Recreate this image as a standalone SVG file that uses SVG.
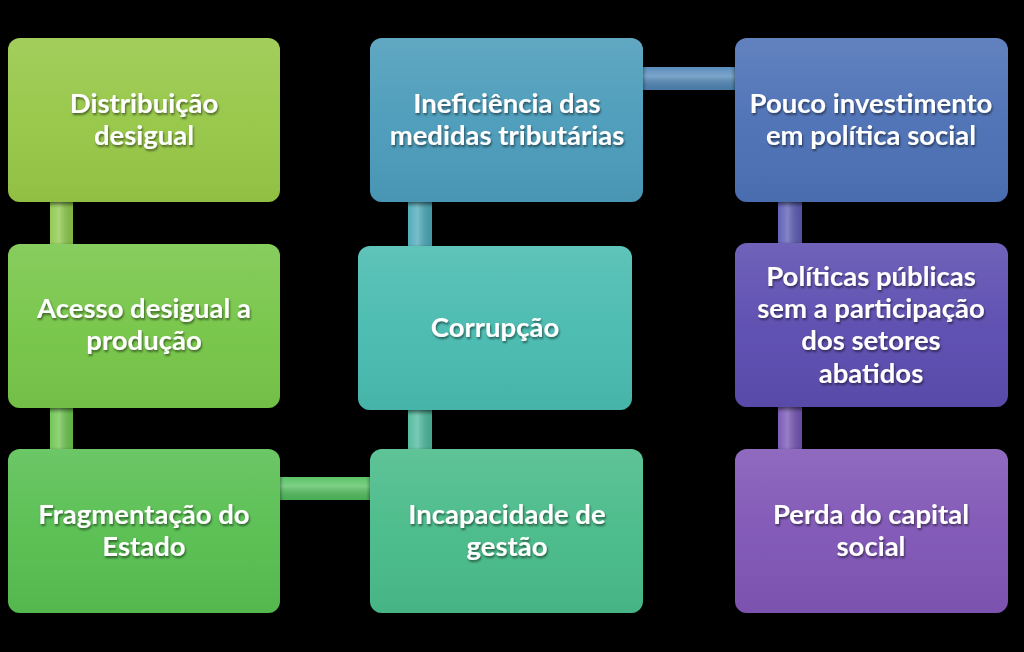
<svg xmlns="http://www.w3.org/2000/svg" width="1024" height="652" viewBox="0 0 1024 652">
<defs>
<style>
.t{font-family:Lato,"Open Sans","Liberation Sans",sans-serif;font-weight:bold;font-size:27.5px;fill:#fff;text-anchor:middle;filter:url(#ts)}
.b{stroke:none;filter:url(#sh)}
.hl{fill:url(#gloss)}
</style>
<filter id="sh" x="-10%" y="-10%" width="120%" height="125%">
<feGaussianBlur in="SourceAlpha" stdDeviation="2"/>
<feOffset dy="2" result="o"/>
<feComponentTransfer><feFuncA type="linear" slope="0.6"/></feComponentTransfer>
<feMerge><feMergeNode/><feMergeNode in="SourceGraphic"/></feMerge>
</filter>
<filter id="ts" x="-10%" y="-20%" width="120%" height="150%">
<feGaussianBlur in="SourceAlpha" stdDeviation="1"/>
<feOffset dx="1" dy="1.5"/>
<feComponentTransfer><feFuncA type="linear" slope="0.5"/></feComponentTransfer>
<feMerge><feMergeNode/><feMergeNode in="SourceGraphic"/></feMerge>
</filter>
<linearGradient id="gloss" x1="0" y1="0" x2="0" y2="1">
<stop offset="0" stop-color="#fff" stop-opacity="0.12"/>
<stop offset="0.5" stop-color="#fff" stop-opacity="0.03"/>
<stop offset="1" stop-color="#000" stop-opacity="0.04"/>
</linearGradient>
<linearGradient id="vbar" x1="0" y1="0" x2="1" y2="0">
<stop offset="0" stop-color="#fff" stop-opacity="0.05"/>
<stop offset="0.4" stop-color="#fff" stop-opacity="0.25"/>
<stop offset="1" stop-color="#000" stop-opacity="0.1"/>
</linearGradient>
<linearGradient id="hbar" x1="0" y1="0" x2="0" y2="1">
<stop offset="0" stop-color="#fff" stop-opacity="0.05"/>
<stop offset="0.4" stop-color="#fff" stop-opacity="0.25"/>
<stop offset="1" stop-color="#000" stop-opacity="0.1"/>
</linearGradient>
</defs>
<rect width="1024" height="652" fill="#000"/>
<g id="connectors">
<rect x="50" y="200" width="23" height="48" fill="#8dc84a"/>
<rect x="50" y="200" width="23" height="48" fill="url(#vbar)"/>
<rect x="50" y="405" width="23" height="48" fill="#6cc44e"/>
<rect x="50" y="405" width="23" height="48" fill="url(#vbar)"/>
<rect x="278" y="477" width="94" height="23" fill="#52c05e"/>
<rect x="278" y="477" width="94" height="23" fill="url(#hbar)"/>
<rect x="408" y="200" width="24" height="50" fill="#4ba8b8"/>
<rect x="408" y="200" width="24" height="50" fill="url(#vbar)"/>
<rect x="408" y="408" width="24" height="44" fill="#4cb99c"/>
<rect x="408" y="408" width="24" height="44" fill="url(#vbar)"/>
<rect x="641" y="67" width="96" height="23" fill="#5087b8"/>
<rect x="641" y="67" width="96" height="23" fill="url(#hbar)"/>
<rect x="778" y="200" width="24" height="46" fill="#5a5ab4"/>
<rect x="778" y="200" width="24" height="46" fill="url(#vbar)"/>
<rect x="778" y="404" width="24" height="48" fill="#7453b4"/>
<rect x="778" y="404" width="24" height="48" fill="url(#vbar)"/>
</g>
<g id="n1">
<rect class="b" x="8" y="38" width="272" height="164" rx="12" fill="#96c746"/>
<rect x="8" y="38" width="272" height="164" rx="12" class="hl"/>
<text class="t" x="144" y="113">Distribuição</text>
<text class="t" x="144" y="145">desigual</text>
</g>
<g id="n2">
<rect class="b" x="8" y="244" width="272" height="164" rx="12" fill="#77c64a"/>
<rect x="8" y="244" width="272" height="164" rx="12" class="hl"/>
<text class="t" x="144" y="318">Acesso desigual a</text>
<text class="t" x="144" y="350">produção</text>
</g>
<g id="n3">
<rect class="b" x="8" y="449" width="272" height="164" rx="12" fill="#58bf51"/>
<rect x="8" y="449" width="272" height="164" rx="12" class="hl"/>
<text class="t" x="144" y="524">Fragmentação do</text>
<text class="t" x="144" y="556">Estado</text>
</g>
<g id="n4">
<rect class="b" x="370" y="38" width="273" height="164" rx="12" fill="#4c9cba"/>
<rect x="370" y="38" width="273" height="164" rx="12" class="hl"/>
<text class="t" x="507" y="113">Ineficiência das</text>
<text class="t" x="507" y="145">medidas tributárias</text>
</g>
<g id="n5">
<rect class="b" x="358" y="246" width="274" height="164" rx="12" fill="#4abbb0"/>
<rect x="358" y="246" width="274" height="164" rx="12" class="hl"/>
<text class="t" x="495" y="337">Corrupção</text>
</g>
<g id="n6">
<rect class="b" x="370" y="449" width="273" height="164" rx="12" fill="#49bb89"/>
<rect x="370" y="449" width="273" height="164" rx="12" class="hl"/>
<text class="t" x="507" y="524">Incapacidade de</text>
<text class="t" x="507" y="556">gestão</text>
</g>
<g id="n7">
<rect class="b" x="735" y="38" width="273" height="164" rx="12" fill="#4e71b6"/>
<rect x="735" y="38" width="273" height="164" rx="12" class="hl"/>
<text class="t" x="871" y="113">Pouco investimento</text>
<text class="t" x="871" y="145">em política social</text>
</g>
<g id="n8">
<rect class="b" x="735" y="243" width="273" height="164" rx="12" fill="#5c4eb0"/>
<rect x="735" y="243" width="273" height="164" rx="12" class="hl"/>
<text class="t" x="871" y="286">Políticas públicas</text>
<text class="t" x="871" y="318">sem a participação</text>
<text class="t" x="871" y="350">dos setores</text>
<text class="t" x="871" y="383">abatidos</text>
</g>
<g id="n9">
<rect class="b" x="735" y="449" width="273" height="164" rx="12" fill="#8057b6"/>
<rect x="735" y="449" width="273" height="164" rx="12" class="hl"/>
<text class="t" x="871" y="524">Perda do capital</text>
<text class="t" x="871" y="556">social</text>
</g>
</svg>
